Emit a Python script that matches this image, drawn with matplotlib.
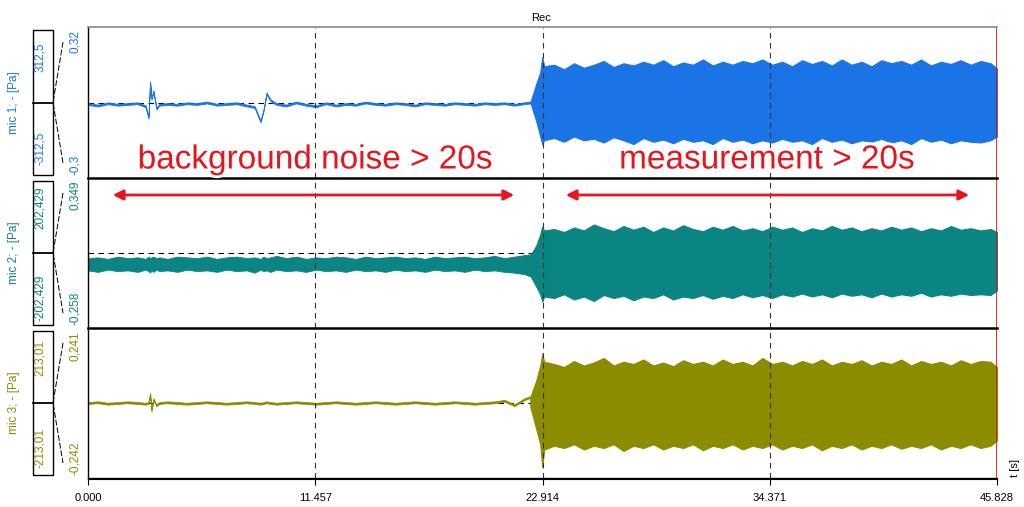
import matplotlib
matplotlib.use("Agg")
import matplotlib.pyplot as plt
from matplotlib.patches import Rectangle, FancyArrowPatch
from matplotlib.lines import Line2D
import matplotlib.patheffects as pe

W, H = 1024, 507
T_END = 45.828
x_ticks = [0.0, 11.457, 22.914, 34.371, 45.828]
x_tick_labels = ["0.000", "11.457", "22.914", "34.371", "45.828"]

channel_names = ["mic 1; - [Pa]", "mic 2; - [Pa]", "mic 3; - [Pa]"]
channel_colors = ["#1a74e6", "#0b8583", "#8c8c00"]
box_top_labels = ["312,5", "202,429", "213,01"]
box_bot_labels = ["-312,5", "-202,429", "-213,01"]
axis_top_labels = ["0,32", "0,349", "0,241"]
axis_bot_labels = ["-0,3", "-0,258", "-0,242"]

# quiet part (normalized amplitude, +1 = top of panel)
quiet_t = [0, 0.5, 1, 1.5, 2, 2.5, 2.9, 3.05, 3.13, 3.2, 3.3, 3.45, 3.6, 4, 4.5, 5, 5.5, 6, 6.5, 7,
           7.5, 8, 8.4, 8.7, 8.85, 9.0, 9.2, 9.5, 10, 10.5, 11, 11.5, 12, 12.5, 13, 13.5, 14, 14.5,
           15, 15.5, 16, 16.5, 17, 17.5, 18, 18.5, 19, 19.5, 20, 20.5, 21, 21.5, 22, 22.3]
mic1_quiet = [-0.02, -0.04, -0.01, -0.03, -0.02, -0.01, -0.05, -0.2, 0.27, 0.05, 0.15, -0.08, -0.03, -0.02,
              -0.03, -0.01, -0.02, 0.0, -0.03, -0.02, -0.01, -0.04, -0.06, -0.25, -0.1, 0.12, 0.03, -0.02,
              -0.04, 0.0, -0.03, -0.05, -0.01, -0.04, -0.02, -0.03, 0.0, -0.02, -0.03, -0.01, -0.02, -0.04,
              -0.01, -0.02, -0.03, -0.01, -0.02, -0.03, -0.01, -0.02, -0.01, -0.03, -0.01, 0.0]
mic2_quiet_hi = [-0.08, -0.07, -0.09, -0.06, -0.08, -0.07, -0.09, -0.06, -0.08, -0.07, -0.06, -0.08, -0.07,
                 -0.09, -0.06, -0.07, -0.08, -0.06, -0.09, -0.07, -0.06, -0.08, -0.07, -0.09, -0.06, -0.08,
                 -0.07, -0.05, -0.08, -0.06, -0.09, -0.07, -0.08, -0.06, -0.07, -0.09, -0.06, -0.08, -0.07,
                 -0.06, -0.08, -0.07, -0.09, -0.06, -0.08, -0.07, -0.06, -0.08, -0.07, -0.05, -0.08, -0.06,
                 -0.04, -0.03]
mic2_quiet_lo = [-0.22, -0.24, -0.21, -0.23, -0.22, -0.24, -0.21, -0.23, -0.25, -0.22, -0.24, -0.21, -0.23,
                 -0.22, -0.24, -0.21, -0.23, -0.22, -0.24, -0.21, -0.23, -0.22, -0.25, -0.21, -0.23, -0.22,
                 -0.24, -0.21, -0.23, -0.22, -0.24, -0.21, -0.23, -0.22, -0.24, -0.21, -0.23, -0.22, -0.24,
                 -0.21, -0.23, -0.22, -0.24, -0.21, -0.23, -0.22, -0.24, -0.21, -0.23, -0.22, -0.24, -0.25,
                 -0.27, -0.3]
mic3_quiet = [0.0, 0.01, -0.01, 0.0, 0.01, 0.0, -0.01, 0.0, 0.12, -0.1, 0.05, -0.03, 0.0, 0.01,
              0.0, -0.01, 0.0, 0.01, 0.0, -0.01, 0.0, 0.01, 0.0, -0.01, 0.0, 0.01, 0.0, -0.01,
              0.0, 0.01, 0.0, -0.01, 0.0, 0.01, 0.0, -0.01, 0.0, 0.01, 0.0, -0.01, 0.0, 0.01,
              0.0, -0.01, 0.0, 0.01, 0.0, -0.01, 0.0, 0.01, 0.03, -0.03, 0.05, 0.08]

# loud part envelopes
loud_t = [22.3, 22.6, 22.8, 22.9, 23.0, 23.5, 24, 24.5, 25, 25.5, 26, 26.5, 27, 27.5, 28, 28.5, 29, 29.5,
          30, 30.5, 31, 31.5, 32, 32.5, 33, 33.5, 34, 34.5, 35, 35.5, 36, 36.5, 37, 37.5, 38, 38.5,
          39, 39.5, 40, 40.5, 41, 41.5, 42, 42.5, 43, 43.5, 44, 44.5, 45, 45.5, 45.828]
mic1_hi = [0.0, 0.25, 0.4, 0.6, 0.48, 0.5, 0.44, 0.52, 0.46, 0.5, 0.55, 0.47, 0.52, 0.49, 0.54, 0.5,
           0.56, 0.48, 0.53, 0.5, 0.57, 0.49, 0.54, 0.5, 0.55, 0.52, 0.57, 0.5, 0.54, 0.48, 0.56, 0.51,
           0.55, 0.49, 0.57, 0.5, 0.54, 0.48, 0.56, 0.52, 0.55, 0.5, 0.57, 0.49, 0.54, 0.51, 0.56, 0.5,
           0.55, 0.52, 0.45]
mic1_lo = [0.0, -0.25, -0.45, -0.55, -0.5, -0.47, -0.52, -0.45, -0.5, -0.48, -0.53, -0.46, -0.5, -0.55,
           -0.47, -0.52, -0.49, -0.54, -0.48, -0.52, -0.5, -0.55, -0.47, -0.52, -0.49, -0.54, -0.5, -0.53,
           -0.48, -0.52, -0.5, -0.55, -0.47, -0.52, -0.49, -0.54, -0.5, -0.52, -0.48, -0.53, -0.5, -0.55,
           -0.47, -0.52, -0.49, -0.54, -0.5, -0.52, -0.53, -0.5, -0.45]
mic2_hi = [-0.03, 0.1, 0.25, 0.35, 0.3, 0.32, 0.28, 0.34, 0.3, 0.38, 0.33, 0.29, 0.36, 0.31, 0.35, 0.28,
           0.34, 0.3, 0.37, 0.32, 0.29, 0.35, 0.31, 0.36, 0.3, 0.33, 0.29, 0.35, 0.31, 0.34, 0.28, 0.33,
           0.3, 0.36, 0.31, 0.34, 0.29, 0.33, 0.3, 0.35, 0.31, 0.34, 0.29, 0.33, 0.3, 0.36, 0.31, 0.33,
           0.3, 0.32, 0.28]
mic2_lo = [-0.3, -0.45, -0.55, -0.65, -0.58, -0.6, -0.55, -0.62, -0.58, -0.64, -0.56, -0.6, -0.57, -0.63,
           -0.58, -0.6, -0.55, -0.62, -0.58, -0.6, -0.56, -0.61, -0.57, -0.6, -0.55, -0.59, -0.56, -0.6,
           -0.55, -0.58, -0.54, -0.58, -0.55, -0.59, -0.54, -0.57, -0.55, -0.59, -0.54, -0.58, -0.55,
           -0.57, -0.53, -0.58, -0.55, -0.57, -0.54, -0.56, -0.55, -0.56, -0.5]
mic3_hi = [0.08, 0.3, 0.5, 0.65, 0.55, 0.52, 0.48, 0.56, 0.5, 0.54, 0.6, 0.5, 0.55, 0.52, 0.58, 0.5,
           0.54, 0.49, 0.57, 0.52, 0.55, 0.5, 0.58, 0.52, 0.55, 0.5, 0.6, 0.52, 0.55, 0.5, 0.56, 0.52,
           0.58, 0.5, 0.55, 0.52, 0.57, 0.5, 0.55, 0.52, 0.58, 0.5, 0.56, 0.52, 0.55, 0.5, 0.57, 0.52,
           0.56, 0.55, 0.48]
mic3_lo = [-0.05, -0.35, -0.55, -0.85, -0.62, -0.57, -0.6, -0.55, -0.62, -0.57, -0.6, -0.55, -0.64, -0.57,
           -0.6, -0.55, -0.62, -0.57, -0.6, -0.55, -0.63, -0.57, -0.6, -0.55, -0.62, -0.57, -0.6, -0.55,
           -0.62, -0.57, -0.6, -0.55, -0.63, -0.57, -0.6, -0.55, -0.62, -0.57, -0.6, -0.55, -0.61, -0.57,
           -0.6, -0.55, -0.62, -0.57, -0.6, -0.55, -0.6, -0.57, -0.5]

dashed_center = [0.0, 0.0, 0.0]

fig = plt.figure(figsize=(W / 100, H / 100), dpi=100)
fig.patch.set_facecolor("white")

def px(x0, y0, x1, y1):
    return [x0 / W, 1 - y1 / H, (x1 - x0) / W, (y1 - y0) / H]

X0, X1 = 88, 997
panels = [(27, 178), (178, 328), (328, 478)]
quiet_hi = [mic1_quiet, mic2_quiet_hi, mic3_quiet]
quiet_lo = [mic1_quiet, mic2_quiet_lo, mic3_quiet]
loud_hi = [mic1_hi, mic2_hi, mic3_hi]
loud_lo = [mic1_lo, mic2_lo, mic3_lo]

for i, (ya, yb) in enumerate(panels):
    ax = fig.add_axes(px(X0, ya, X1, yb))
    c = channel_colors[i]
    ax.set_xlim(0, T_END)
    ax.set_ylim(-1, 1)
    qlo = [v - 0.012 for v in quiet_lo[i]]
    qhi = [v + 0.012 for v in quiet_hi[i]]
    ax.fill_between(quiet_t, qlo, qhi, color=c, lw=0.6)
    ax.fill_between(loud_t, loud_lo[i], loud_hi[i], color=c, lw=0.8, edgecolor=c)
    ax.axhline(dashed_center[i], color="black", ls=(0, (5, 4)), lw=0.8, zorder=0)
    for xt in x_ticks[1:4]:
        ax.axvline(xt, color="#333333", ls=(0, (5, 4)), lw=0.8, zorder=3)
    ax.axvline(T_END, color="red", lw=1.2, zorder=4)
    ax.set_xticks([])
    ax.set_yticks([])
    for s in ["top", "right", "bottom"]:
        ax.spines[s].set_visible(False)
    ax.spines["left"].set_color("black")
    ax.spines["left"].set_linewidth(1.0)
    # left decorations
    cy = (ya + yb) / 2
    fig.add_artist(Rectangle(((33) / W, 1 - (yb - 3) / H), 20 / W, (yb - ya - 6) / H,
                             transform=fig.transFigure, fill=False, lw=1, ec="black"))
    fig.add_artist(Line2D([33 / W, 53 / W], [1 - cy / H] * 2, transform=fig.transFigure, color="black", lw=1.3))
    fig.add_artist(Line2D([63 / W, 53 / W, 63 / W], [1 - (ya + 15) / H, 1 - cy / H, 1 - (yb - 15) / H],
                          transform=fig.transFigure, color="black", lw=0.7, ls=(0, (6, 2))))
    fig.text(14 / W, 1 - cy / H, channel_names[i], rotation=90, color=c, fontsize=8.5,
             ha="center", va="center", family="Liberation Sans")
    fig.text(40 / W, 1 - (ya + 30) / H, box_top_labels[i], rotation=90, color=c, fontsize=8.5,
             ha="center", va="center", family="Liberation Sans")
    fig.text(40 / W, 1 - (yb - 30) / H, box_bot_labels[i], rotation=90, color=c, fontsize=8.5,
             ha="center", va="center", family="Liberation Sans")
    fig.text(75 / W, 1 - (ya + 3) / H, axis_top_labels[i], rotation=90, color=c, fontsize=8.5,
             ha="center", va="top", family="Liberation Sans")
    fig.text(75 / W, 1 - (yb - 3) / H, axis_bot_labels[i], rotation=90, color=c, fontsize=8.5,
             ha="center", va="bottom", family="Liberation Sans")

# panel borders
fig.add_artist(Line2D([X0 / W, X1 / W], [1 - 27 / H] * 2, transform=fig.transFigure, color="#888888", lw=1.2))
for yy in (178, 328):
    fig.add_artist(Line2D([X0 / W, X1 / W], [1 - yy / H] * 2, transform=fig.transFigure, color="black", lw=1.8))
fig.add_artist(Line2D([X0 / W, X1 / W], [1 - 478 / H] * 2, transform=fig.transFigure, color="black", lw=1.0))
fig.text(541 / W, 1 - 18 / H, "Rec", fontsize=8, ha="center", va="center", family="Liberation Sans")

# x axis
xa = fig.add_axes(px(X0, 478, X1, 479))
xa.set_xlim(0, T_END)
xa.set_xticks(x_ticks)
xa.set_xticklabels(x_tick_labels, fontsize=8, family="Liberation Sans")
xa.set_yticks([])
for s in ["top", "right", "left"]:
    xa.spines[s].set_visible(False)
xa.tick_params(length=4, pad=6)
fig.text(1015 / W, 1 - 468 / H, "t [s]", rotation=90, fontsize=8, ha="center", va="center",
         family="Liberation Sans")

# annotations
fx = [pe.withStroke(linewidth=4, foreground="white")]
fig.text(315 / W, 1 - 160 / H, "background noise > 20s", fontsize=24, color="#e8141c",
         ha="center", va="center", family="Liberation Sans", path_effects=fx)
fig.text(767 / W, 1 - 160 / H, "measurement > 20s", fontsize=24, color="#e8141c",
         ha="center", va="center", family="Liberation Sans", path_effects=fx)
for (a, b) in [(110, 517), (563, 972)]:
    fig.add_artist(FancyArrowPatch((a / W, 1 - 195 / H), (b / W, 1 - 195 / H), transform=fig.transFigure,
                                   arrowstyle="<|-|>,head_length=6,head_width=3", color="#e8141c", lw=2))

fig.savefig("out.png", dpi=100)
